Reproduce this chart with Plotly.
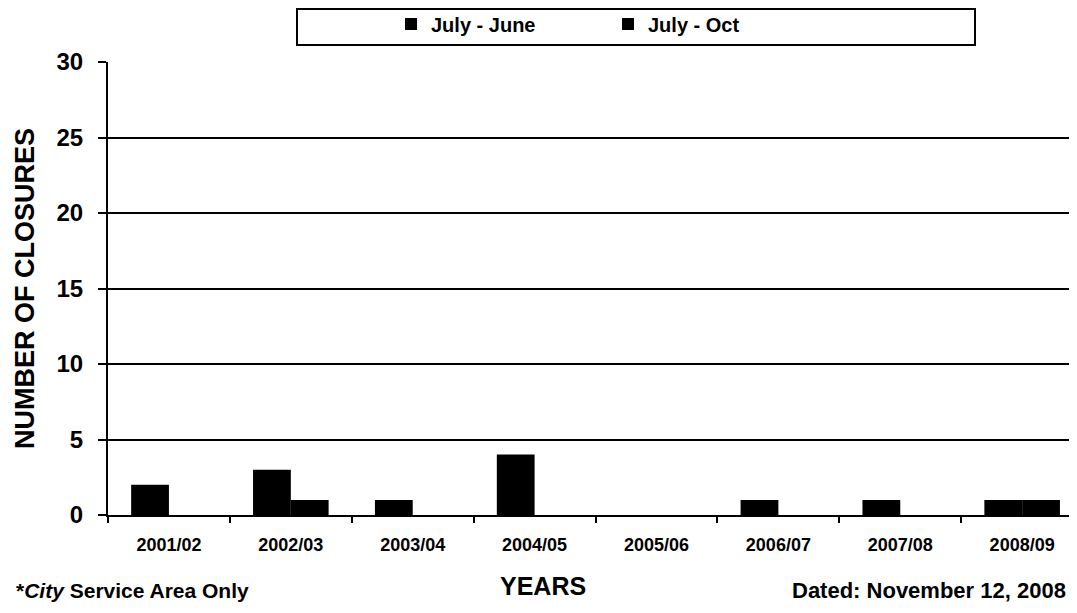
import plotly.graph_objects as go

years = ["2001/02", "2002/03", "2003/04", "2004/05", "2005/06", "2006/07", "2007/08", "2008/09"]
july_june = [2, 3, 1, 4, 0, 1, 1, 1]
july_oct = [0, 1, 0, 0, 0, 0, 0, 1]
y_ticks = [0, 5, 10, 15, 20, 25, 30]

FONT = "Liberation Sans, Arial, sans-serif"

OFF = 8  # page body margin
W, H = 1077 - OFF, 613 - OFF
# screen-space target plot box
SL, ST, SB = 108, 62, 515
L = SL - OFF
T = ST - OFF
B = H - (SB - OFF)
R = 0
pw = W - L - R
ph = H - T - B

def sx(px):
    return (px - OFF - L) / pw

def sy(py):
    return (H - B - (py - OFF)) / ph

fig = go.Figure()
fig.add_trace(go.Bar(name="July - June", x=years, y=july_june, marker=dict(color="black", line=dict(width=0))))
fig.add_trace(go.Bar(name="July - Oct", x=years, y=july_oct, marker=dict(color="black", line=dict(width=0))))

fig.update_layout(
    width=W, height=H,
    margin=dict(l=L, r=R, t=T, b=B, pad=0, autoexpand=False),
    paper_bgcolor="white", plot_bgcolor="white",
    barmode="group", bargap=0.38, bargroupgap=0,
    font=dict(family=FONT, color="black"),
    showlegend=True,
    legend=dict(
        orientation="h",
        x=sx(391), xanchor="left",
        y=sy(24), yanchor="middle",
        entrywidth=172, entrywidthmode="pixels",
        font=dict(family=FONT, size=20, color="black", weight="bold"),
        itemwidth=30,
        bgcolor="rgba(0,0,0,0)",
        traceorder="normal",
    ),
    xaxis=dict(
        range=[-0.5, 7.45],
        showline=True, linecolor="black", linewidth=2,
        ticks="outside", tickson="boundaries", ticklen=6, tickwidth=2, tickcolor="black",
        ticklabelstandoff=12,
        tickfont=dict(family=FONT, size=18, color="black", weight="bold"),
        showgrid=False,
        title=None,
    ),
    yaxis=dict(
        range=[0, 30],
        tickvals=y_ticks,
        showline=True, linecolor="black", linewidth=2,
        ticks="outside", ticklen=8, tickwidth=2, tickcolor="black",
        ticklabelstandoff=10,
        tickfont=dict(family=FONT, size=24, color="black", weight="bold"),
        showgrid=True, gridcolor="black", gridwidth=2,
        zeroline=False,
        title=dict(text="NUMBER OF CLOSURES", font=dict(family=FONT, size=27, color="black", weight="bold"), standoff=14),
    ),
    shapes=[
        dict(type="rect", xref="paper", yref="paper",
             x0=sx(297), x1=sx(975),
             y0=sy(45), y1=sy(9),
             line=dict(color="black", width=2), fillcolor="rgba(0,0,0,0)"),
    ],
    annotations=[
        dict(text="*<i>City</i> Service Area Only", xref="paper", yref="paper",
             x=sx(14), y=sy(590), xanchor="left", yanchor="middle",
             showarrow=False, font=dict(family=FONT, size=21, color="black", weight="bold")),
        dict(text="YEARS", xref="paper", yref="paper",
             x=sx(543), y=sy(586), xanchor="center", yanchor="middle",
             showarrow=False, font=dict(family=FONT, size=25, color="black", weight="bold")),
        dict(text="Dated: November 12, 2008", xref="paper", yref="paper",
             x=sx(1068), y=sy(590), xanchor="right", yanchor="middle",
             showarrow=False, font=dict(family=FONT, size=22, color="black", weight="bold")),
    ],
)

fig.write_html("out.html")
